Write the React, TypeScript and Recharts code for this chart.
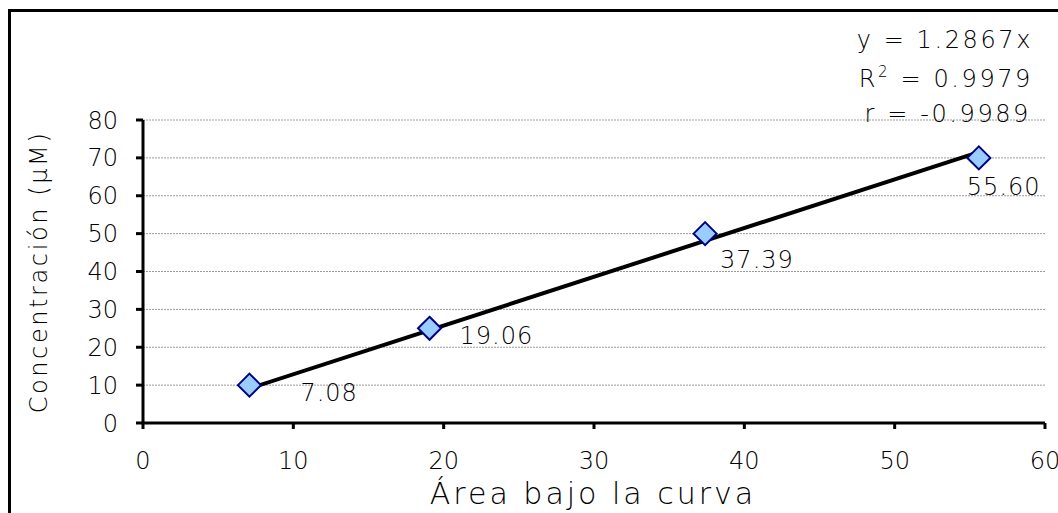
import { ComposedChart, Scatter, XAxis, YAxis, CartesianGrid, ReferenceLine, Customized } from 'recharts'

// calibration points
const areas = [7.08, 19.06, 37.39, 55.6]
const concentrations = [10, 25, 50, 70]
const xTicks = [0, 10, 20, 30, 40, 50, 60]
const yTicks = [0, 10, 20, 30, 40, 50, 60, 70, 80]

// fit results shown on the chart
const slope = 1.2867
const rSquared = 0.9979
const rValue = -0.9989

// manual label placement (dx, dy from the marker centre), like in the original
const labelShift = [[51, 8], [30, 8], [15, 26], [-12, 29]]

const points = areas.map((a, i) => ({ x: a, y: concentrations[i] }))
const first = areas[0]
const last = areas[areas.length - 1]

const FONT = 'DejaVu Sans'
const TEXT = '#000'
const WEIGHT = 300

const Diamond = (props: any) => {
  const { cx, cy, payload } = props
  const i = points.findIndex(p => p.x === payload.x)
  const [dx, dy] = labelShift[i] || [20, 20]
  const s = 11.5
  return (
    <g>
      <polygon
        points={`${cx},${cy - s} ${cx + s},${cy} ${cx},${cy + s} ${cx - s},${cy}`}
        fill="#99ccff"
        stroke="#000080"
        strokeWidth={2}
      />
      <text x={cx + dx} y={cy + dy} dominantBaseline="central" fontSize={24} fill={TEXT} fontFamily={FONT} fontWeight={WEIGHT} letterSpacing={1}>
        {payload.x.toFixed(2)}
      </text>
    </g>
  )
}

const Annotations = () => (
  <g fontFamily={FONT} fill={TEXT} fontWeight={WEIGHT}>
    <text x={1033} y={48} textAnchor="end" fontSize={24} letterSpacing={2.6}>
      {`y = ${slope}x`}
    </text>
    <text x={1033} y={87} textAnchor="end" fontSize={24} letterSpacing={2.6}>
      R<tspan dy={-10} fontSize={15}>2</tspan><tspan dy={10}>{` = ${rSquared}`}</tspan>
    </text>
    <text x={1031} y={122} textAnchor="end" fontSize={24} letterSpacing={2.6}>
      {`r = ${rValue}`}
    </text>
    <text x={593} y={504} textAnchor="middle" fontSize={30} letterSpacing={3}>
      Área bajo la curva
    </text>
    <text x={47} y={272} textAnchor="middle" fontSize={24} letterSpacing={2.6} transform="rotate(-90 47 272)">
      Concentración (µM)
    </text>
  </g>
)

export default function App() {
  return (
    <div style={{ position: 'fixed', left: 0, top: 0, width: 1058, height: 513, overflow: 'hidden', background: '#fff' }}>
      <div style={{ position: 'absolute', left: 8, top: 9, width: 1200, height: 700, borderTop: '3px solid #000', borderLeft: '3px solid #000' }} />
      <div style={{ position: 'absolute', left: 0, top: 0 }}>
        <ComposedChart width={1058} height={513} margin={{ top: 120, right: 13, left: 0, bottom: 50 }}>
          <CartesianGrid vertical={false} stroke="#9a9a9a" strokeDasharray="2 1" />
          <XAxis
            type="number"
            dataKey="x"
            domain={[0, 60]}
            ticks={xTicks}
            height={40}
            axisLine={{ stroke: '#000', strokeWidth: 3 }}
            tickLine={{ stroke: '#000', strokeWidth: 3 }}
            tickSize={6}
            tickMargin={23}
            tick={{ fontSize: 24, fill: TEXT, fontFamily: FONT, fontWeight: WEIGHT }}
            interval={0}
          />
          <YAxis
            type="number"
            dataKey="y"
            domain={[0, 80]}
            ticks={yTicks}
            width={143}
            axisLine={{ stroke: '#000', strokeWidth: 3 }}
            tickLine={{ stroke: '#000', strokeWidth: 3 }}
            tickSize={7}
            tickMargin={18}
            tick={{ fontSize: 24, fill: TEXT, fontFamily: FONT, fontWeight: WEIGHT }}
            interval={0}
          />
          <Scatter data={points} shape={Diamond} isAnimationActive={false} />
          <ReferenceLine
            segment={[{ x: first, y: slope * first }, { x: last, y: slope * last }]}
            stroke="#000"
            strokeWidth={4}
          />
          <Customized component={Annotations} />
        </ComposedChart>
      </div>
    </div>
  )
}
